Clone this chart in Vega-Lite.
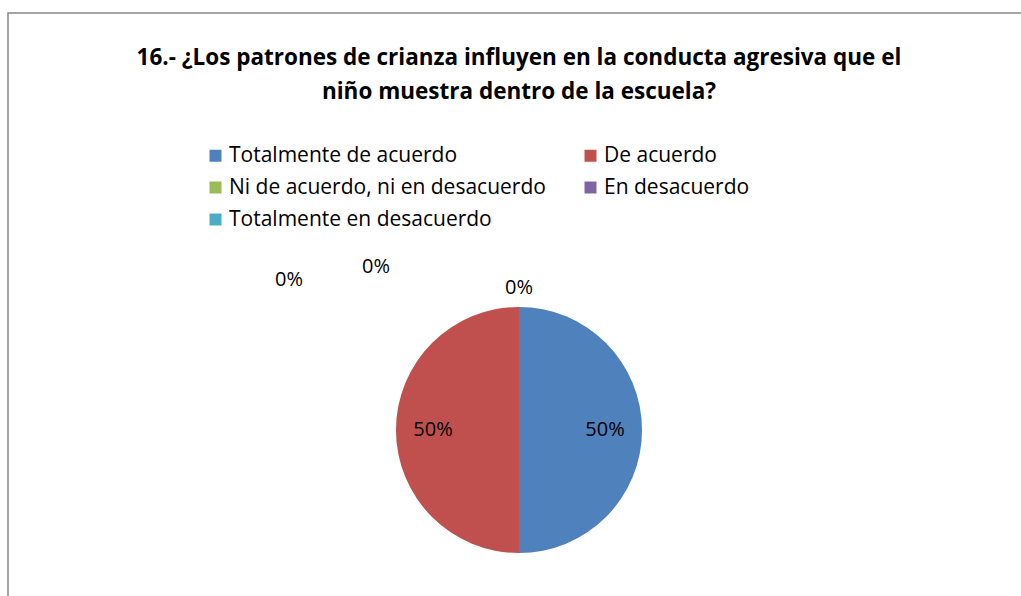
{
  "$schema": "https://vega.github.io/schema/vega-lite/v6.json",
  "width": 1022,
  "height": 834,
  "autosize": {"type": "none"},
  "padding": {"left": 8, "top": 13, "right": 0, "bottom": 0},
  "background": "white",
  "config": {
    "view": {"stroke": null},
    "font": "Open Sans",
    "text": {"font": "Open Sans"}
  },
  "title": {
    "text": ["16.- ¿Los patrones de crianza influyen en la conducta agresiva que el", "niño muestra dentro de la escuela?"],
    "font": "Open Sans",
    "fontSize": 22.5,
    "fontWeight": "bold",
    "color": "black",
    "anchor": "middle",
    "frame": "group",
    "lineHeight": 34,
    "dy": 95
  },
  "data": {
    "values": [
      {"categoria": "Totalmente de acuerdo", "valor": 50, "orden": 1, "etiqueta": "50%"},
      {"categoria": "De acuerdo", "valor": 50, "orden": 2, "etiqueta": "50%"},
      {"categoria": "Ni de acuerdo, ni en desacuerdo", "valor": 0, "orden": 3, "etiqueta": "0%"},
      {"categoria": "En desacuerdo", "valor": 0, "orden": 4, "etiqueta": "0%"},
      {"categoria": "Totalmente en desacuerdo", "valor": 0, "orden": 5, "etiqueta": "0%"}
    ]
  },
  "layer": [
    {
      "data": {"values": [{"marco": 1}]},
      "mark": {"type": "rect", "fill": null, "stroke": "#868686", "strokeWidth": 1.5},
      "encoding": {}
    },
    {
      "mark": {"type": "arc", "outerRadius": 123},
      "encoding": {
        "theta": {"field": "valor", "type": "quantitative", "stack": true},
        "order": {"field": "orden", "type": "quantitative"},
        "color": {
          "field": "categoria",
          "type": "nominal",
          "sort": ["Totalmente de acuerdo", "De acuerdo", "Ni de acuerdo, ni en desacuerdo", "En desacuerdo", "Totalmente en desacuerdo"],
          "scale": {
            "domain": ["Totalmente de acuerdo", "De acuerdo", "Ni de acuerdo, ni en desacuerdo", "En desacuerdo", "Totalmente en desacuerdo"],
            "range": ["#4F81BD", "#C0504D", "#9BBB59", "#8064A2", "#4BACC6"]
          },
          "legend": {
            "orient": "none",
            "legendX": 197,
            "legendY": 132,
            "direction": "horizontal",
            "columns": 2,
            "columnPadding": 34,
            "rowPadding": 10,
            "padding": 0,
            "title": null,
            "symbolType": "square",
            "symbolSize": 144,
            "symbolStrokeWidth": 0,
            "labelFont": "Open Sans",
            "labelFontSize": 21,
            "labelColor": "black",
            "labelOffset": 3,
            "labelLimit": 400
          }
        }
      }
    },
    {
      "transform": [{"filter": "datum.valor > 0"}],
      "mark": {"type": "text", "radius": 86, "fontSize": 20, "color": "black", "font": "Open Sans"},
      "encoding": {
        "theta": {"field": "valor", "type": "quantitative", "stack": true},
        "order": {"field": "orden", "type": "quantitative"},
        "text": {"field": "etiqueta"}
      }
    },
    {
      "transform": [{"filter": "datum.orden == 3"}],
      "mark": {"type": "text", "radius": 142, "fontSize": 20, "color": "black", "font": "Open Sans"},
      "encoding": {
        "theta": {"field": "valor", "type": "quantitative", "stack": true},
        "text": {"field": "etiqueta"}
      }
    },
    {
      "transform": [{"filter": "datum.orden == 4"}],
      "mark": {"type": "text", "radius": 142, "dx": -143, "dy": -21, "fontSize": 20, "color": "black", "font": "Open Sans"},
      "encoding": {
        "theta": {"field": "valor", "type": "quantitative", "stack": true},
        "text": {"field": "etiqueta"}
      }
    },
    {
      "transform": [{"filter": "datum.orden == 5"}],
      "mark": {"type": "text", "radius": 142, "dx": -230, "dy": -8, "fontSize": 20, "color": "black", "font": "Open Sans"},
      "encoding": {
        "theta": {"field": "valor", "type": "quantitative", "stack": true},
        "text": {"field": "etiqueta"}
      }
    }
  ]
}
